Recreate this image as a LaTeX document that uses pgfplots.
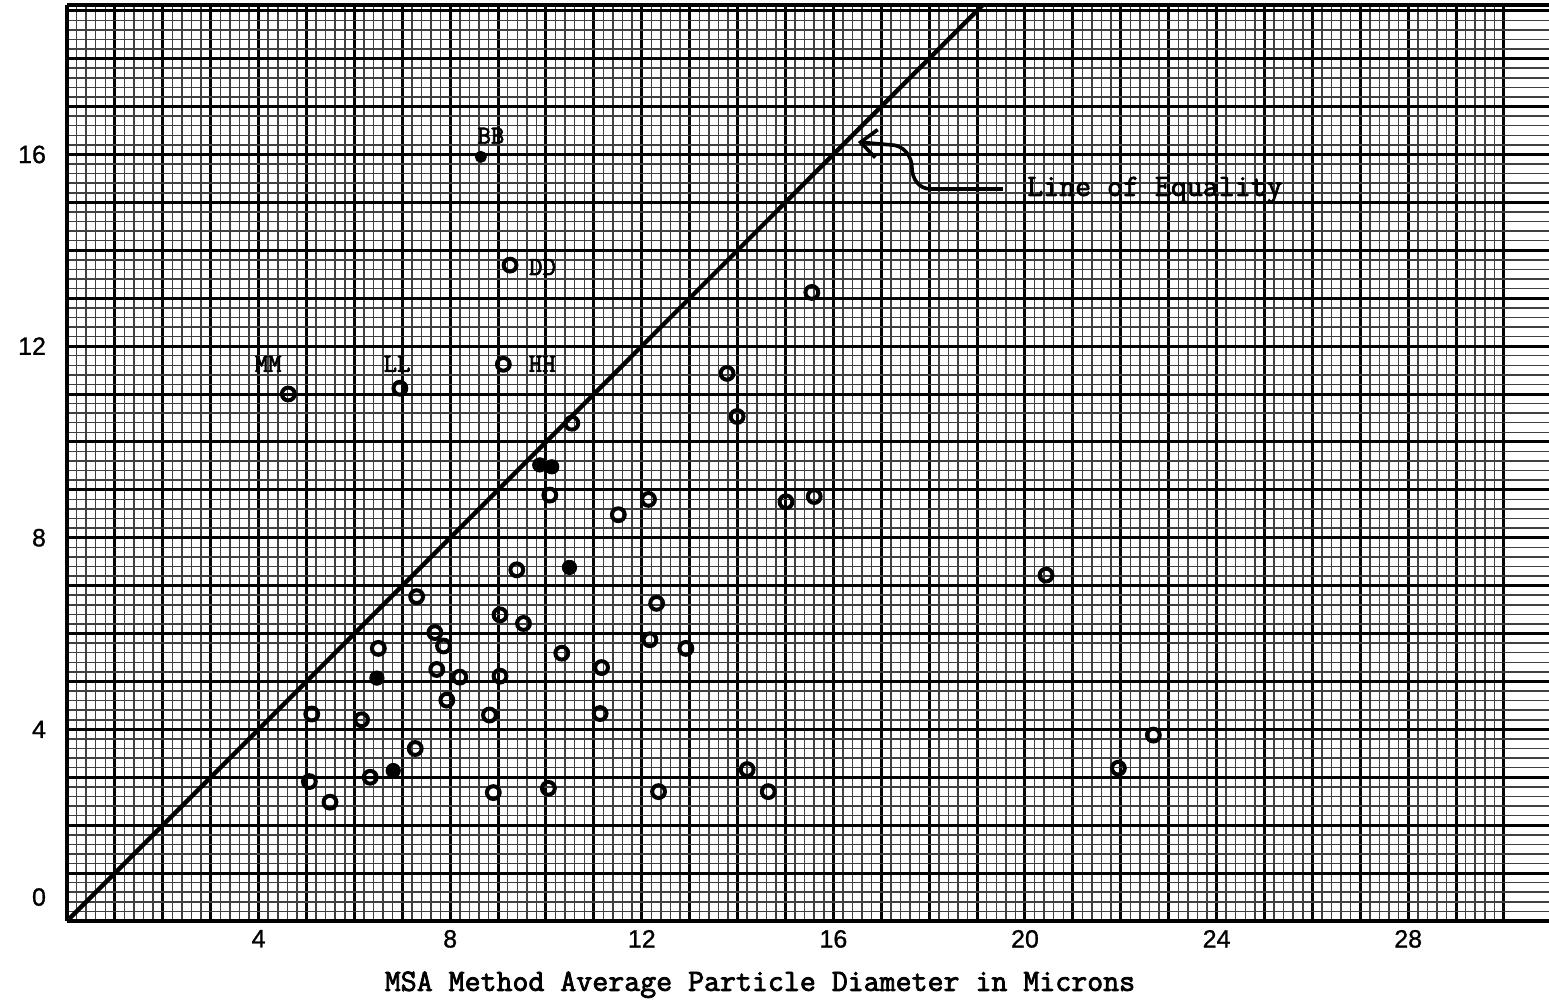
\documentclass[border=0pt]{standalone}
\usepackage{fontspec}
\setmainfont{Liberation Sans}
\newfontfamily\tk{Liberation Sans}[FakeBold=1]
\newfontfamily\tw{Latin Modern Mono}[FakeBold=2.5]
\usepackage{pgfplots}
\pgfplotsset{compat=1.18}
\usetikzlibrary{arrows.meta}

\pgfplotstableread{
x y
9.25 13.69
4.62 11.00
6.95 11.12
9.11 11.62
10.54 10.39
10.08 8.89
11.51 8.48
12.14 8.80
9.39 7.33
12.31 6.63
13.78 11.43
13.99 10.53
15.55 13.12
15.01 8.75
15.60 8.86
20.44 7.22
21.95 3.19
22.68 3.88
14.20 3.16
14.64 2.70
7.30 6.77
7.68 6.02
7.86 5.74
9.04 6.39
9.53 6.21
6.50 5.69
7.72 5.25
8.20 5.09
9.04 5.11
10.33 5.59
12.17 5.87
11.16 5.29
5.11 4.32
6.15 4.20
7.93 4.61
8.82 4.30
11.13 4.33
7.27 3.60
6.33 3.00
5.06 2.91
5.49 2.48
8.90 2.68
10.05 2.77
12.35 2.70
12.92 5.69
}\opendata

\pgfplotstableread{
x y
9.87 9.52
10.12 9.48
10.49 7.38
6.47 5.07
6.81 3.14
}\filleddata

\begin{document}
\begin{tikzpicture}
\useasboundingbox (-33.5pt,-39.5pt) rectangle (741pt,460.5pt);
\begin{axis}[
  scale only axis, width=741pt, height=458pt,
  xmin=0, xmax=30.94, ymin=0, ymax=19.12,
  axis x line=box, axis y line=left,
  axis line style={line width=2pt, -},
  xtick={0,...,30}, ytick={0,...,19},
  xticklabels={}, yticklabels={},
  minor x tick num=4, minor y tick num=4,
  grid=both,
  major grid style={black, line width=1.5pt},
  minor grid style={black!75, line width=0.75pt},
  major tick length=0pt, minor tick length=0pt,
  extra x ticks={4,8,12,16,20,24,28},
  extra x tick labels={4,8,12,16,20,24,28},
  extra x tick style={grid=none},
  extra y ticks={0.5,4,8,12,16},
  extra y tick labels={0,4,8,12,16},
  extra y tick style={grid=none},
  tick label style={font=\tk\fontsize{12.5}{13}\selectfont},
  yticklabel style={xshift=-7pt},
  xticklabel style={yshift=-1pt},
  /pgf/number format/assume math mode=true,
  xlabel={MSA Method Average Particle Diameter in Microns},
  xlabel style={at={(ticklabel cs:0.4676)}, anchor=north, yshift=-5pt,
    font=\tw\fontsize{15.5}{16}\selectfont},
  clip=true,
]
\addplot[line width=2.2pt, black] coordinates {(0,0) (19.2,19.2)};
\addplot[only marks, mark=o, mark size=3.2pt, line width=2pt, black] table {\opendata};
\addplot[only marks, mark=*, mark size=3.6pt, black] table {\filleddata};
\addplot[only marks, mark=*, mark size=2.8pt, black] coordinates {(8.64,15.95)};

\node[font=\tw\fontsize{13}{13}\selectfont] at (axis cs:8.85,16.39) {BB};
\node[font=\tw\fontsize{13}{13}\selectfont, anchor=west] at (axis cs:9.5,13.65) {DD};
\node[font=\tw\fontsize{13}{13}\selectfont] at (axis cs:4.2,11.63) {MM};
\node[font=\tw\fontsize{13}{13}\selectfont] at (axis cs:6.89,11.63) {LL};
\node[font=\tw\fontsize{13}{13}\selectfont] at (axis cs:9.92,11.63) {HH};
\node[font=\tw\fontsize{15.5}{16}\selectfont, anchor=west] at (axis cs:19.9,15.26) {Line of Equality};
\draw[line width=1.8pt, -{Straight Barb[length=8pt,width=14pt,line width=1.8pt]}]
  (axis cs:19.54,15.28) -- (axis cs:18.02,15.28)
  to[out=180,in=-90] (axis cs:17.64,15.72)
  to[out=90,in=0] (axis cs:17.2,16.2) -- (axis cs:16.51,16.26);
\end{axis}
\end{tikzpicture}
\end{document}
